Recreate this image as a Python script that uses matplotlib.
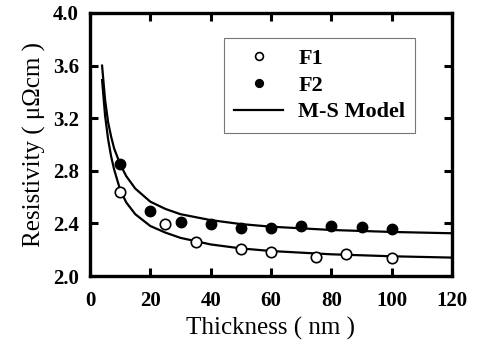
import matplotlib
matplotlib.use("Agg")
import matplotlib.pyplot as plt

plt.rcParams['font.family'] = ['Liberation Serif', 'DejaVu Serif']

# Measured data
f1_thickness = [10, 25, 35, 50, 60, 75, 85, 100]
f1_resistivity = [2.636, 2.393, 2.256, 2.205, 2.185, 2.147, 2.167, 2.139]

f2_thickness = [10, 20, 30, 40, 50, 60, 70, 80, 90, 100]
f2_resistivity = [2.85, 2.494, 2.408, 2.395, 2.367, 2.363, 2.383, 2.380, 2.370, 2.355]

# M-S model curves
model_thickness = [4, 5, 6, 7, 8, 10, 12, 15, 20, 25, 30, 40, 50, 60, 80, 100, 120]
model_f1 = [3.49, 3.22, 3.04, 2.91, 2.81, 2.655, 2.56, 2.47, 2.38, 2.33, 2.29, 2.24, 2.21, 2.19, 2.165, 2.15, 2.14]
model_f2 = [3.60, 3.34, 3.17, 3.06, 2.97, 2.85, 2.76, 2.665, 2.565, 2.51, 2.47, 2.425, 2.395, 2.375, 2.35, 2.335, 2.325]

x_ticks = [0, 20, 40, 60, 80, 100, 120]
y_ticks = [2.0, 2.4, 2.8, 3.2, 3.6, 4.0]

fig = plt.figure(figsize=(4.81, 3.58), dpi=100)
ax = fig.add_axes([90/481, 1-276/358, (452-90)/481, (276-13)/358])

ax.plot(f1_thickness, f1_resistivity, 'o', mfc='white', mec='black', mew=1.2, ms=7.5, label='F1', zorder=3)
ax.plot(f2_thickness, f2_resistivity, 'o', mfc='black', mec='black', ms=7.5, label='F2', zorder=3)
ax.plot(model_thickness, model_f2, '-', color='black', lw=1.6, label='M-S Model')
ax.plot(model_thickness, model_f1, '-', color='black', lw=1.6)

ax.set_xlim(0, 120)
ax.set_ylim(2.0, 4.0)
ax.set_xticks(x_ticks)
ax.set_yticks(y_ticks)
ax.set_xticklabels([str(t) for t in x_ticks])
ax.set_yticklabels(['%.1f' % t for t in y_ticks])

for s in ax.spines.values():
    s.set_linewidth(2.4)
ax.tick_params(axis='both', direction='in', length=6, width=2.2, top=True, right=True,
               labelsize=15)
ax.tick_params(axis='x', pad=11)
ax.tick_params(axis='y', pad=8)
for lab in ax.get_xticklabels() + ax.get_yticklabels():
    lab.set_fontweight('bold')

ax.set_xlabel('Thickness ( nm )', fontsize=18, labelpad=4)
ax.set_ylabel('Resistivity ( μΩcm )', fontsize=18, labelpad=5)

leg = ax.legend(loc='upper left', bbox_to_anchor=(224/481, 1-38/358), bbox_transform=fig.transFigure,
                prop={'weight': 'bold', 'size': 16}, frameon=True, fancybox=False,
                handlelength=2.2, handletextpad=0.68, borderpad=0.46, borderaxespad=0,
                labelspacing=0.28, markerscale=0.75)
leg.get_frame().set_edgecolor('#555555')
leg.get_frame().set_linewidth(0.8)

fig.savefig('out.png', dpi=100)
